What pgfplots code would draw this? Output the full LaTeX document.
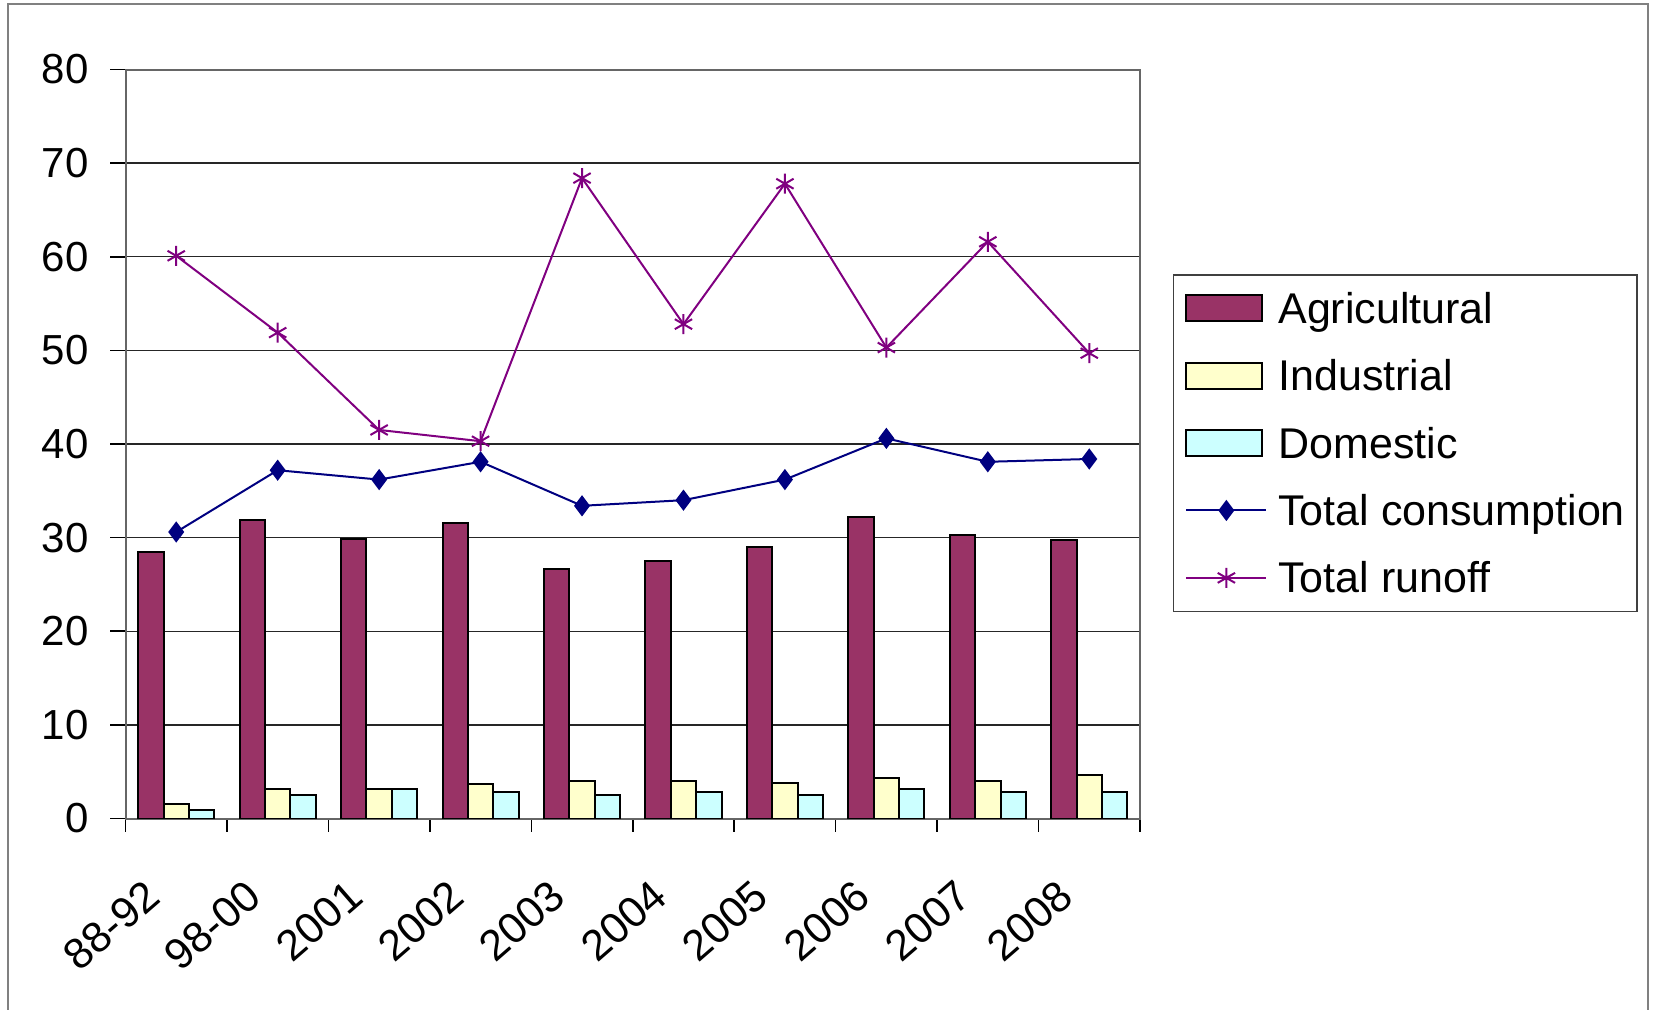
\documentclass[border=0pt]{standalone}
\usepackage{fontspec}
\setmainfont{Liberation Sans}
\usepackage{pgfplots}
\pgfplotsset{compat=1.18}
\usepackage{pgfplotstable}
\definecolor{agri}{HTML}{993366}
\definecolor{indu}{HTML}{FFFFCC}
\definecolor{dome}{HTML}{CCFFFF}
\definecolor{cons}{HTML}{000080}
\definecolor{runo}{HTML}{800080}
\pgfplotsset{
  barleg/.style={legend image code/.code={\draw[##1] (0pt,-6.5pt) rectangle (38pt,6.5pt);}},
  lineleg/.style={legend image code/.code={\draw[mark repeat=2,mark phase=2,##1] plot coordinates {(0pt,0pt) (20pt,0pt) (40pt,0pt)};}},
}
\pgfplotstableread{
x agri ind dom cons runoff
0 28.5 1.6 0.9 30.6 60.1
1 31.9 3.1 2.5 37.2 51.9
2 29.9 3.1 3.1 36.2 41.5
3 31.6 3.7 2.8 38.1 40.3
4 26.6 4.0 2.5 33.4 68.4
5 27.5 4.0 2.8 34.0 52.8
6 29.0 3.8 2.5 36.2 67.8
7 32.2 4.3 3.1 40.6 50.3
8 30.3 4.0 2.8 38.1 61.6
9 29.7 4.7 2.8 38.4 49.7
}\data
\begin{document}
\begin{tikzpicture}[x=1pt,y=1pt]
\useasboundingbox (0,0) rectangle (827,504.5);
\draw[black!50, line width=1pt] (4.2,-5) -- (4.2,502.4) -- (823.8,502.4) -- (823.8,-5);
\begin{axis}[
  at={(62.75pt,95.25pt)}, anchor=south west,
  scale only axis, width=507.25pt, height=374.5pt,
  xmin=-0.5, xmax=9.5, ymin=0, ymax=80,
  ytick={0,10,...,80},
  xtick={0,...,9},
  xticklabels={88-92,98-00,2001,2002,2003,2004,2005,2006,2007,2008},
  minor xtick={-0.5,0.5,...,9.5},
  tick align=outside, tick pos=left,
  major x tick style={draw=none},
  major tick length=7.5pt, minor tick length=6.7pt,
  tick style={black, line width=0.8pt},
  ymajorgrids, grid style={black!85, line width=0.7pt},
  axis line style={black!60, line width=1pt},
  tick label style={font=\fontsize{21}{25}\selectfont},
  /pgf/number format/assume math mode=true,
  yticklabel style={xshift=-7.5pt},
  xticklabel style={font=\fontsize{21.5}{25}\selectfont, xshift=-9.2pt, yshift=-25.6pt, rotate=41, anchor=east},
  legend style={at={(1.0321,0.727)}, anchor=north west, draw=black!75, line width=0.8pt,
    font=\fontsize{21.5}{25}\selectfont,
    nodes={inner sep=0pt, text height=15pt, text depth=0pt},
    row sep=18.7pt, column sep=5.5pt, inner xsep=6pt, inner ysep=9.25pt},
  legend cell align=left,
]
\addplot[ybar, bar width=0.25, bar shift=-0.25, fill=agri, draw=black, line width=1pt, barleg] table[x=x,y=agri]{\data};
\addlegendentry{Agricultural}
\addplot[ybar, bar width=0.25, bar shift=0, fill=indu, draw=black, line width=1pt, barleg] table[x=x,y=ind]{\data};
\addlegendentry{Industrial}
\addplot[ybar, bar width=0.25, bar shift=0.25, fill=dome, draw=black, line width=1pt, barleg] table[x=x,y=dom]{\data};
\addlegendentry{Domestic}
\addplot[cons, line width=1pt, mark=diamond*, mark size=4.5pt, lineleg] table[x=x,y=cons]{\data};
\addlegendentry{Total consumption}
\addplot[runo, line width=1pt, mark=asterisk, mark size=5pt, lineleg] table[x=x,y=runoff]{\data};
\addlegendentry{Total runoff}
\end{axis}
\end{tikzpicture}
\end{document}
